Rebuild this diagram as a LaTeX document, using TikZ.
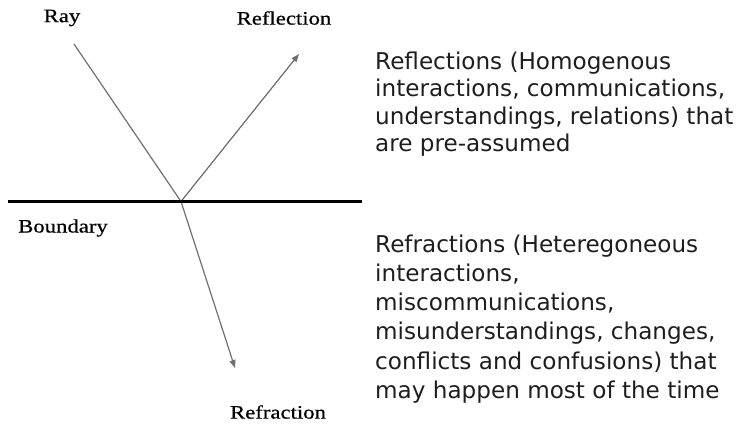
\documentclass[tikz,border=0pt]{standalone}
\usepackage{fontspec}
\usetikzlibrary{arrows.meta}
\newfontfamily\serf[FakeStretch=1.2,FakeBold=0.6]{Liberation Serif}
\newfontfamily\sansf{DejaVu Sans}
\definecolor{raygray}{HTML}{707070}
\definecolor{txt}{HTML}{1E1E1E}
\begin{document}
\begin{tikzpicture}[x=1bp,y=-1bp,
  lbl/.style={font=\serf\fontsize{19}{22}\selectfont, text=black, inner sep=0pt},
  desc/.style={text=txt, align=left, anchor=base west, inner sep=0pt},
  ray/.style={draw=raygray, line width=1.2bp},
  arr/.style={ray, -{Triangle[length=8bp,width=6bp]}},
  bound/.style={draw=black, line width=3bp}]
\useasboundingbox (0,0) rectangle (736,424);
\coordinate (bl) at (8,201.5);
\coordinate (br) at (362,201.5);
\coordinate (o) at (181,201.5);
\coordinate (rs) at (74,44);
\coordinate (re) at (299,54);
\coordinate (fe) at (235,368);
\draw[ray] (rs) -- (o);
\draw[arr] (o) -- (re);
\draw[arr] (o) -- (fe);
\draw[bound] (bl) -- (br);
\node[lbl] (ray) at (62,18) {Ray};
\node[lbl] (refl) at (284,18) {Reflection};
\node[lbl] (bnd) at (63,228) {Boundary};
\node[lbl] (refr) at (278,412) {Refraction};
\node[desc, font=\sansf\fontsize{23.2}{27.3}\selectfont] (d1) at (375,151.2) {Reflections (Homogenous\\interactions, communications,\\understandings, relations) that\\are pre-assumed};
\node[desc, font=\sansf\fontsize{23.2}{29.3}\selectfont] (d2) at (375,398.2) {Refractions (Heteregoneous\\interactions,\\miscommunications,\\misunderstandings, changes,\\conflicts and confusions) that\\may happen most of the time};
\end{tikzpicture}
\end{document}
